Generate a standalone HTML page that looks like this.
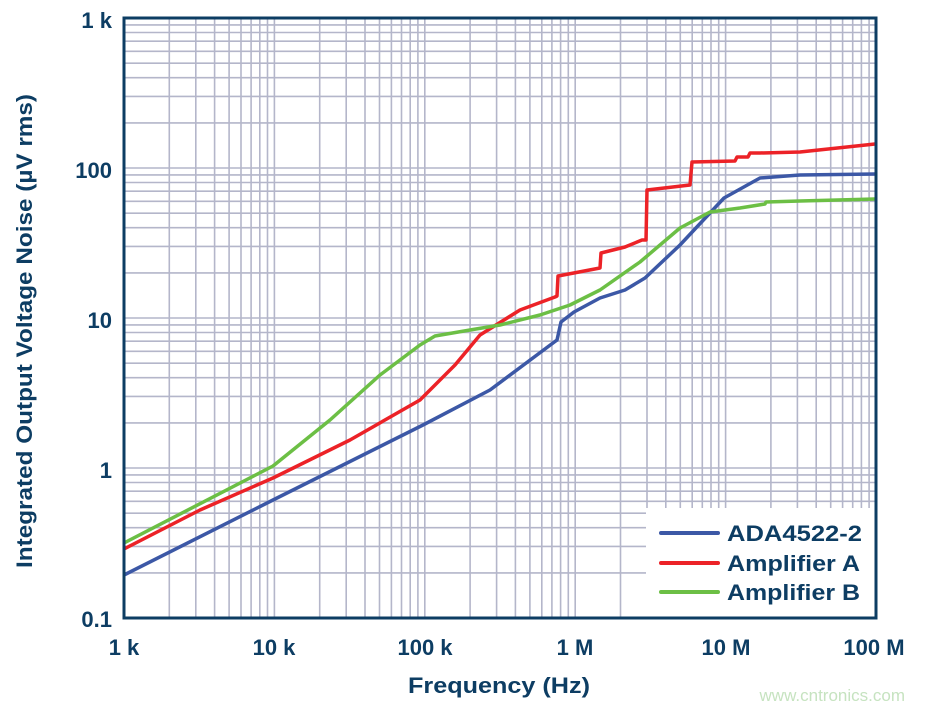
<!DOCTYPE html>
<html><head><meta charset="utf-8"><style>
body{margin:0;background:#fff}
svg{display:block;font-family:"Liberation Sans",Arial,sans-serif;font-weight:bold}
</style></head><body>
<svg width="925" height="710" viewBox="0 0 925 710" xmlns="http://www.w3.org/2000/svg">
<path fill="none" stroke="#b4b6ca" stroke-width="1.6" d="
M169.3 18V618M195.8 18V618M214.6 18V618M229.1 18V618M241.0 18V618M251.1 18V618M259.8 18V618M267.5 18V618
M274.4 18V618M319.7 18V618M346.2 18V618M365.0 18V618M379.5 18V618M391.4 18V618M401.5 18V618M410.2 18V618M417.9 18V618
M424.8 18V618M470.1 18V618M496.6 18V618M515.4 18V618M529.9 18V618M541.8 18V618M551.9 18V618M560.6 18V618M568.3 18V618
M575.2 18V618M620.5 18V618M647.0 18V618M665.8 18V618M680.3 18V618M692.2 18V618M702.3 18V618M711.0 18V618M718.7 18V618
M725.6 18V618M770.9 18V618M797.4 18V618M816.2 18V618M830.7 18V618M842.6 18V618M852.7 18V618M861.4 18V618M869.1 18V618
M124 168H876M124 122.9H876M124 96.4H876M124 77.7H876M124 63.2H876M124 51.3H876M124 41.2H876M124 32.5H876M124 24.9H876
M124 318H876M124 272.9H876M124 246.4H876M124 227.7H876M124 213.2H876M124 201.3H876M124 191.2H876M124 182.5H876M124 174.9H876
M124 468H876M124 422.9H876M124 396.4H876M124 377.7H876M124 363.2H876M124 351.3H876M124 341.2H876M124 332.5H876M124 324.9H876
M124 572.9H876M124 546.4H876M124 527.7H876M124 513.2H876M124 501.3H876M124 491.2H876M124 482.5H876M124 474.9H876"/>
<polyline fill="none" stroke="#3c58a6" stroke-width="3.5" stroke-linejoin="round" points="124,575 273,500 423,425 490,390 557,340 561,322 574,312 600,298 625,290 645,278 680,245 724,198 760,178 800,175 875,174"/>
<polyline fill="none" stroke="#ec2227" stroke-width="3.5" stroke-linejoin="round" points="124,549 200,510 273,478 350,440 420,400 455,365 480,335 520,310 555,297 557,296 558,276 600,268 601,253 625,247 642,240 646,240 647,190 690,185 692,162 735,161 737,157 748,157 750,153 760,153 800,152 875,144"/>
<polyline fill="none" stroke="#6cbf45" stroke-width="3.5" stroke-linejoin="round" points="124,543 273,466 330,420 380,375 420,345 435,336 470,330 500,325 540,315 570,305 600,290 640,262 680,228 710,212 740,208 765,204 766,202 800,201 875,199"/>
<rect x="646" y="508" width="230" height="110" fill="#fff"/>
<rect x="124" y="18" width="752" height="600" fill="none" stroke="#0d3d63" stroke-width="3"/>
<g stroke-width="4" stroke-linecap="round">
<line x1="661" y1="533" x2="718" y2="533" stroke="#3c58a6"/>
<line x1="661" y1="563" x2="718" y2="563" stroke="#ec2227"/>
<line x1="661" y1="592" x2="718" y2="592" stroke="#6cbf45"/>
</g>
<g fill="#0d3d63" font-size="22">
<text x="727" y="541" textLength="135" lengthAdjust="spacingAndGlyphs">ADA4522-2</text>
<text x="727" y="571" textLength="133" lengthAdjust="spacingAndGlyphs">Amplifier A</text>
<text x="727" y="600" textLength="133" lengthAdjust="spacingAndGlyphs">Amplifier B</text>
<g text-anchor="end">
<text x="112" y="28">1 k</text>
<text x="112" y="178">100</text>
<text x="112" y="328">10</text>
<text x="112" y="478">1</text>
<text x="112" y="627">0.1</text>
</g>
<g text-anchor="middle">
<text x="124" y="655">1 k</text>
<text x="274" y="655">10 k</text>
<text x="425" y="655">100 k</text>
<text x="575" y="655">1 M</text>
<text x="726" y="655">10 M</text>
<text x="874" y="655">100 M</text>
<text x="499" y="693" textLength="182" lengthAdjust="spacingAndGlyphs">Frequency (Hz)</text>
<text transform="translate(32,331) rotate(-90)" textLength="474" lengthAdjust="spacingAndGlyphs">Integrated Output Voltage Noise (µV rms)</text>
</g>
</g>
<text x="905" y="701" text-anchor="end" font-size="17" font-weight="normal" fill="#c6e3c0">www.cntronics.com</text>
</svg>
</body></html>
